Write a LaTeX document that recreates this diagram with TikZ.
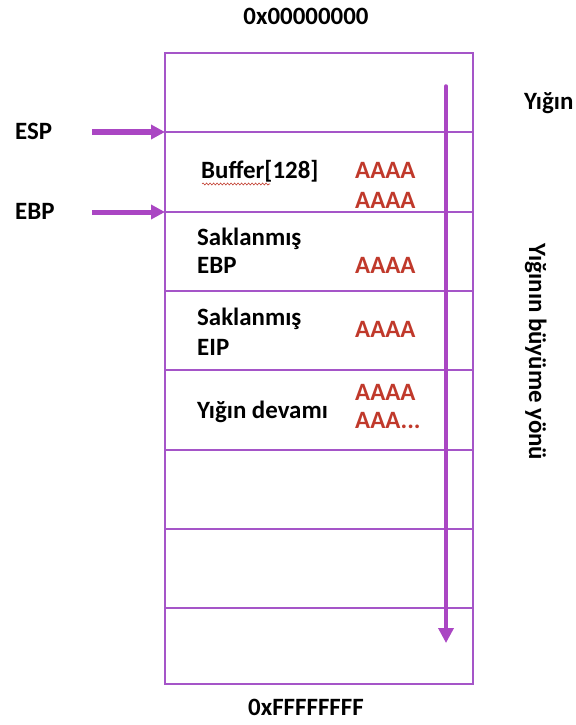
\documentclass[tikz,border=0pt]{standalone}
\usepackage{fontspec}
\setmainfont{Carlito}
\usetikzlibrary{arrows.meta,decorations.pathmorphing}
\definecolor{boxpurple}{RGB}{165,85,200}
\definecolor{arrowpurple}{RGB}{170,70,195}
\definecolor{fillred}{RGB}{192,57,43}
\begin{document}
\begin{tikzpicture}[x=1bp,y=-1bp,
  lbl/.style={font=\fontsize{25}{30}\selectfont\bfseries, inner sep=0, anchor=base west},
  clbl/.style={lbl, anchor=base},
  redlbl/.style={lbl, text=fillred},
  cellline/.style={draw=boxpurple, line width=1.5bp},
  ptr/.style={draw=arrowpurple, line width=5bp, -{Triangle[length=14bp,width=14bp]}},
  growarrow/.style={draw=arrowpurple, line width=3.5bp, line cap=round, -{Triangle[length=15bp,width=15bp]}}]
\useasboundingbox (0,0) rectangle (576,725);

% stack frame box
\draw[cellline] (165,53) rectangle (473,684);
\foreach \y in {132,212,291,370,450,529,608}
  \draw[cellline] (165,\y) -- (473,\y);

% addresses
\node[clbl] (top) at (306,25) {0x00000000};
\node[clbl] (bottom) at (306,715) {0xFFFFFFFF};

% pointers
\node[lbl] (esp) at (15,140) {ESP};
\node[lbl] (ebp) at (15,219) {EBP};
\coordinate (espfrom) at (92,132);
\coordinate (espto) at (165,132);
\coordinate (ebpfrom) at (92,212);
\coordinate (ebpto) at (165,212);
\draw[ptr] (espfrom) -- (espto);
\draw[ptr] (ebpfrom) -- (ebpto);

% cell contents
\node[lbl] (buf) at (201,178) {Buffer[128]};
\draw[fillred, line width=0.6bp, decorate, decoration={snake, amplitude=1bp, segment length=3.5bp}] (202,184) -- (270,184);
\node[redlbl] (a1) at (355,178) {AAAA};
\node[redlbl] (a2) at (355,208) {AAAA};

\node[lbl] (s1) at (197,245) {Saklanmış};
\node[lbl] (sebp) at (197,273) {EBP};
\node[redlbl] (a3) at (355,273) {AAAA};

\node[lbl] (s2) at (197,325) {Saklanmış};
\node[lbl] (seip) at (197,355) {EIP};
\node[redlbl] (a4) at (355,337) {AAAA};

\node[lbl] (dev) at (197,418) {Yığın devamı};
\node[redlbl] (a5) at (355,400) {AAAA};
\node[redlbl] (a6) at (355,428) {AAA...};

% growth direction
\node[lbl] (stack) at (524,110) {Yığın};
\node[clbl, rotate=-90] (dir) at (529,352) {Yığının büyüme yönü};
\coordinate (gtop) at (446,86);
\coordinate (gbot) at (446,643);
\draw[growarrow] (gtop) -- (gbot);
\end{tikzpicture}
\end{document}
